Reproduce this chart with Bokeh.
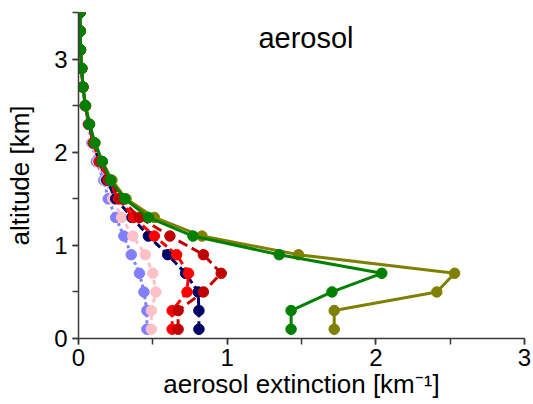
from bokeh.embed import file_html
from bokeh.models import Label, SingleIntervalTicker
from bokeh.plotting import figure
from bokeh.resources import INLINE

# Altitude levels [km]
altitude = [0.1, 0.3, 0.5, 0.7, 0.9, 1.1, 1.3, 1.5, 1.7, 1.9, 2.1, 2.3, 2.5, 2.7, 2.9, 3.1, 3.3, 3.5]

# Aerosol extinction profiles [km^-1]
ext_lightblue = [0.46, 0.46, 0.44, 0.41, 0.355, 0.305, 0.25, 0.20, 0.17, 0.12, 0.09, 0.065, 0.045, 0.028, 0.02, 0.012, 0.011, 0.01]
ext_pink = [0.49, 0.49, 0.52, 0.50, 0.45, 0.365, 0.29, 0.23, 0.18, 0.13, 0.095, 0.068, 0.046, 0.029, 0.021, 0.012, 0.011, 0.01]
ext_navy = [0.81, 0.81, 0.805, 0.72, 0.60, 0.47, 0.36, 0.25, 0.19, 0.14, 0.10, 0.07, 0.046, 0.03, 0.021, 0.013, 0.012, 0.01]
ext_red = [0.63, 0.63, 0.73, 0.74, 0.66, 0.51, 0.37, 0.27, 0.20, 0.14, 0.10, 0.07, 0.046, 0.03, 0.021, 0.013, 0.012, 0.01]
ext_darkred = [0.67, 0.67, 0.84, 0.96, 0.84, 0.615, 0.41, 0.28, 0.21, 0.15, 0.105, 0.072, 0.047, 0.03, 0.022, 0.013, 0.012, 0.01]
ext_olive = [1.72, 1.72, 2.41, 2.53, 1.48, 0.83, 0.51, 0.32, 0.225, 0.16, 0.11, 0.074, 0.047, 0.03, 0.022, 0.013, 0.012, 0.01]
ext_green = [1.43, 1.43, 1.705, 2.04, 1.35, 0.77, 0.47, 0.31, 0.215, 0.16, 0.11, 0.074, 0.047, 0.03, 0.022, 0.013, 0.012, 0.01]

FONT = "Liberation Sans"
AXIS_COLOR = "#3a3a3a"

p = figure(
    width=533,
    height=404,
    x_range=(0, 3),
    y_range=(0, 3.5),
    x_axis_label="aerosol extinction [km⁻¹]",
    y_axis_label="altitude [km]",
    output_backend="svg",
    toolbar_location=None,
    min_border_left=78,
    min_border_right=9,
    min_border_top=12,
    min_border_bottom=66,
)

# series drawn back to front: (values, colour, dash)
series = [
    (ext_lightblue, "#8080ff", "3 3"),
    (ext_pink, "#ffc0c8", "5 4"),
    (ext_navy, "#000066", "8 4"),
    (ext_red, "#ff0000", "8 4"),
    (ext_darkred, "#c00000", "10 5"),
    (ext_olive, "#808000", "solid"),
    (ext_green, "#008000", "solid"),
]
for vals, color, dash in series:
    p.line(vals, altitude, line_color=color, line_width=3, line_dash=dash)
    p.scatter(vals, altitude, size=10.5, fill_color=color, line_color=color)

# title sits inside the plot area
p.add_layout(Label(x=1.53, y=3.23, text="aerosol", text_align="center", text_baseline="alphabetic",
                   text_font=FONT, text_font_size="29px", text_color="black"))

for ax in (p.xaxis[0], p.yaxis[0]):
    ax.ticker = SingleIntervalTicker(interval=1, num_minor_ticks=2)
    ax.axis_line_color = AXIS_COLOR
    ax.axis_line_width = 1.5
    ax.major_tick_line_color = AXIS_COLOR
    ax.minor_tick_line_color = AXIS_COLOR
    ax.major_tick_line_width = 1.5
    ax.minor_tick_line_width = 1.5
    ax.major_tick_in = 0
    ax.minor_tick_in = 0
    ax.major_tick_out = 6
    ax.minor_tick_out = 6
    ax.major_label_text_font = FONT
    ax.major_label_text_font_size = "24px"
    ax.major_label_text_color = "black"
    ax.axis_label_text_font = FONT
    ax.axis_label_text_font_size = "26px"
    ax.axis_label_text_font_style = "normal"
    ax.axis_label_text_color = "black"

p.xaxis.major_label_standoff = 4
p.xaxis.axis_label_standoff = 0
p.yaxis.major_label_standoff = 5
p.yaxis.axis_label_standoff = 16

p.grid.visible = False
p.outline_line_color = None

open("out.html", "w").write(file_html(p, INLINE))
